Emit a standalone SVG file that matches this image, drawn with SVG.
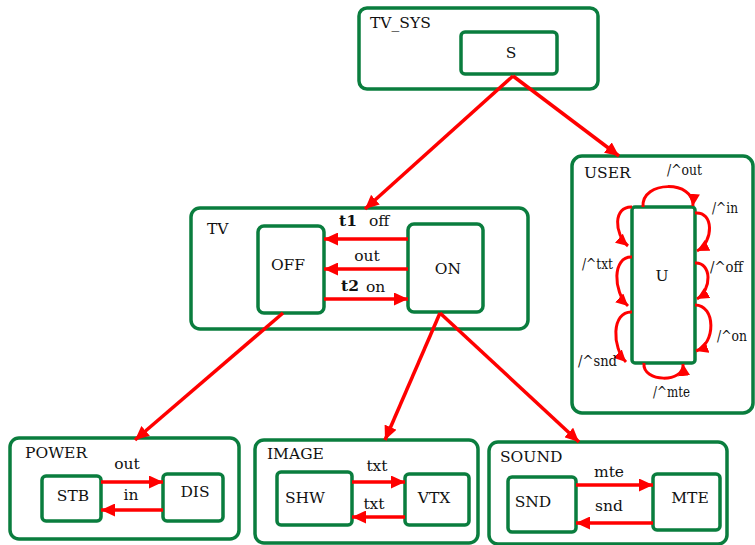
<svg xmlns="http://www.w3.org/2000/svg" width="755" height="545" viewBox="0 0 755 545" font-family="'DejaVu Serif', 'Liberation Serif', serif">
  <style>
    .box { fill: #ffffff; stroke: #0a7d3e; stroke-width: 3.5; }
    .inner { fill: #ffffff; stroke: #0a7d3e; stroke-width: 3.5; }
    .edge { fill: none; stroke: #ff0000; stroke-width: 3.5; }
    .loop { fill: none; stroke: #ff0000; stroke-width: 3; }
    text { font-size: 15.5px; fill: #111111; }
    .mid { text-anchor: middle; }
    .bold { font-weight: bold; }
  </style>
  <defs>
    <marker id="arrow" markerUnits="userSpaceOnUse" markerWidth="15" markerHeight="13" refX="14" refY="6.5" orient="auto">
      <path d="M0,0 L14,6.5 L0,13 z" fill="#ff0000"/>
    </marker>
    <marker id="arrowSmall" markerUnits="userSpaceOnUse" markerWidth="13" markerHeight="12" refX="12" refY="6" orient="auto">
      <path d="M0,0 L12,6 L0,12 z" fill="#ff0000"/>
    </marker>
  </defs>
  <rect width="755" height="545" fill="#ffffff"/>

  <!-- composite states -->
  <g id="TV_SYS">
    <rect class="box" x="359" y="8" width="239" height="81" rx="8"/>
    <text x="370" y="28">TV_SYS</text>
    <g id="S">
      <rect class="inner" x="461" y="32" width="96" height="42" rx="4"/>
      <text class="mid" x="511" y="58">S</text>
    </g>
  </g>

  <g id="TV">
    <rect class="box" x="191" y="208" width="337" height="121" rx="9"/>
    <text x="207" y="234">TV</text>
    <g id="OFF">
      <rect class="inner" x="258" y="226" width="66" height="87" rx="6"/>
      <text class="mid" x="288" y="270">OFF</text>
    </g>
    <g id="ON">
      <rect class="inner" x="408" y="224" width="75" height="88" rx="6"/>
      <text class="mid" x="448" y="274">ON</text>
    </g>
  </g>

  <g id="USER">
    <rect class="box" x="572" y="156" width="181" height="257" rx="10"/>
    <text x="584" y="178">USER</text>
    <g id="U">
      <rect class="inner" x="632" y="207" width="63" height="156" rx="3"/>
      <text class="mid" x="662" y="281">U</text>
    </g>
  </g>

  <g id="POWER">
    <rect class="box" x="10" y="438" width="229" height="101" rx="9"/>
    <text x="25" y="458">POWER</text>
    <g id="STB">
      <rect class="inner" x="42" y="476" width="59" height="45" rx="4"/>
      <text class="mid" x="73" y="501">STB</text>
    </g>
    <g id="DIS">
      <rect class="inner" x="163" y="474" width="60" height="47" rx="4"/>
      <text class="mid" x="195" y="497">DIS</text>
    </g>
  </g>

  <g id="IMAGE">
    <rect class="box" x="255" y="440" width="223" height="103" rx="9"/>
    <text x="267" y="459">IMAGE</text>
    <g id="SHW">
      <rect class="inner" x="277" y="472" width="75" height="53" rx="4"/>
      <text class="mid" x="305" y="503">SHW</text>
    </g>
    <g id="VTX">
      <rect class="inner" x="405" y="474" width="64" height="51" rx="4"/>
      <text class="mid" x="434" y="503">VTX</text>
    </g>
  </g>

  <g id="SOUND">
    <rect class="box" x="489" y="442" width="238" height="102" rx="9"/>
    <text x="500" y="462">SOUND</text>
    <g id="SND">
      <rect class="inner" x="508" y="477" width="68" height="55" rx="4"/>
      <text class="mid" x="533" y="507">SND</text>
    </g>
    <g id="MTE">
      <rect class="inner" x="653" y="474" width="67" height="56" rx="4"/>
      <text class="mid" x="690" y="503">MTE</text>
    </g>
  </g>

  <!-- connectors -->
  <g id="connectors">
    <!-- hierarchy -->
    <line class="edge" x1="513" y1="76" x2="365" y2="209" marker-end="url(#arrow)"/>
    <line class="edge" x1="513" y1="76" x2="619" y2="156" marker-end="url(#arrow)"/>
    <line class="edge" x1="283" y1="313" x2="135" y2="440" marker-end="url(#arrow)"/>
    <line class="edge" x1="440" y1="313" x2="385" y2="440" marker-end="url(#arrow)"/>
    <line class="edge" x1="440" y1="313" x2="579" y2="442" marker-end="url(#arrow)"/>

    <!-- TV transitions -->
    <line class="edge" x1="408" y1="239" x2="324" y2="239" marker-end="url(#arrow)"/>
    <line class="edge" x1="408" y1="269" x2="324" y2="269" marker-end="url(#arrow)"/>
    <line class="edge" x1="324" y1="299" x2="408" y2="299" marker-end="url(#arrow)"/>

    <!-- POWER transitions -->
    <line class="edge" x1="101" y1="482" x2="163" y2="482" marker-end="url(#arrow)"/>
    <line class="edge" x1="163" y1="510" x2="101" y2="510" marker-end="url(#arrow)"/>

    <!-- IMAGE transitions -->
    <line class="edge" x1="352" y1="482" x2="405" y2="482" marker-end="url(#arrow)"/>
    <line class="edge" x1="405" y1="517" x2="352" y2="517" marker-end="url(#arrow)"/>

    <!-- SOUND transitions -->
    <line class="edge" x1="576" y1="485" x2="653" y2="485" marker-end="url(#arrow)"/>
    <line class="edge" x1="653" y1="523" x2="576" y2="523" marker-end="url(#arrow)"/>

    <!-- USER self transitions -->
    <path class="loop" d="M643,207 C641,180 695,180 693,206" marker-end="url(#arrowSmall)"/>
    <path class="loop" d="M695,213 C714,211 714,242 697,251" marker-end="url(#arrowSmall)"/>
    <path class="loop" d="M695,263 C712,262 712,290 697,299" marker-end="url(#arrowSmall)"/>
    <path class="loop" d="M695,305 C716,305 716,344 696,351" marker-end="url(#arrowSmall)"/>
    <path class="loop" d="M644,363 C642,383 685,383 683,364" marker-end="url(#arrowSmall)"/>
    <path class="loop" d="M632,207 C613,206 614,234 628,246" marker-end="url(#arrowSmall)"/>
    <path class="loop" d="M632,257 C612,256 613,292 628,306" marker-end="url(#arrowSmall)"/>
    <path class="loop" d="M632,312 C611,311 612,348 626,362" marker-end="url(#arrowSmall)"/>
  </g>

  <!-- transition labels -->
  <g id="labels">
    <text class="bold" x="339" y="226">t1</text>
    <text x="369" y="226">off</text>
    <text class="mid" x="367" y="261">out</text>
    <text class="bold" x="341" y="291">t2</text>
    <text x="366" y="292">on</text>

    <text class="mid" x="127" y="469">out</text>
    <text class="mid" x="131" y="500">in</text>
    <text class="mid" x="377" y="471">txt</text>
    <text class="mid" x="374" y="509">txt</text>
    <text class="mid" x="609" y="477">mte</text>
    <text class="mid" x="609" y="511">snd</text>

    <text x="667" y="175" textLength="35" lengthAdjust="spacingAndGlyphs">/^out</text>
    <text x="712" y="213" textLength="26" lengthAdjust="spacingAndGlyphs">/^in</text>
    <text x="710" y="272" textLength="33" lengthAdjust="spacingAndGlyphs">/^off</text>
    <text x="717" y="341" textLength="30" lengthAdjust="spacingAndGlyphs">/^on</text>
    <text x="653" y="397" textLength="37" lengthAdjust="spacingAndGlyphs">/^mte</text>
    <text x="582" y="269" textLength="31" lengthAdjust="spacingAndGlyphs">/^txt</text>
    <text x="578" y="366" textLength="39" lengthAdjust="spacingAndGlyphs">/^snd</text>
  </g>
</svg>
